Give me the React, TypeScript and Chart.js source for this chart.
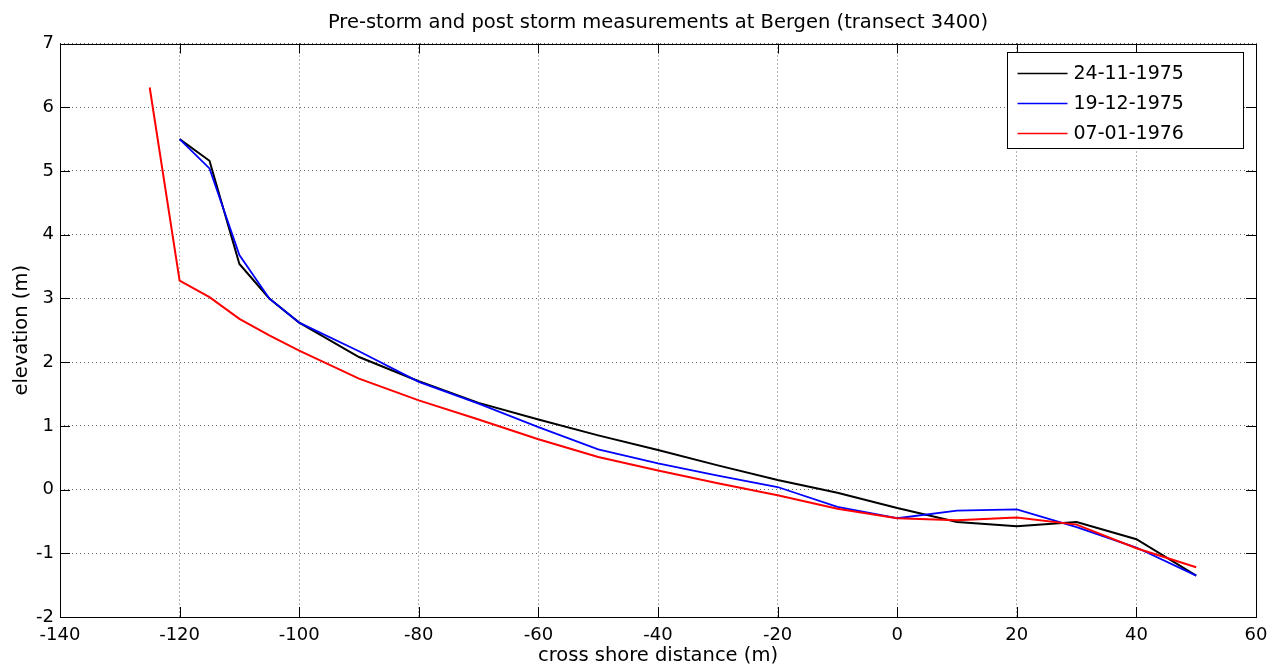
import React, { useEffect, useRef } from "react";
import { Chart, registerables } from "chart.js";

Chart.register(...registerables);

const TITLE = "Pre-storm and post storm measurements at Bergen (transect 3400)";
const X_LABEL = "cross shore distance (m)";
const Y_LABEL = "elevation (m)";

const seriesLabels = ["24-11-1975", "19-12-1975", "07-01-1976"];
const seriesColors = ["#000000", "#0000ff", "#ff0000"];

const distNov = [-120, -115, -110, -105, -100, -90, -80, -70, -60, -50, -40, -30, -20, -10, 0, 10, 20, 30, 40, 50];
const elevNov = [5.5, 5.16, 3.54, 3.0, 2.62, 2.08, 1.7, 1.36, 1.1, 0.85, 0.62, 0.38, 0.15, -0.05, -0.29, -0.51, -0.575, -0.51, -0.78, -1.35];

const distDec = [-120, -115, -110, -105, -100, -90, -80, -70, -60, -50, -40, -30, -20, -10, 0, 10, 20, 30, 40, 50];
const elevDec = [5.5, 5.04, 3.68, 3.0, 2.62, 2.17, 1.69, 1.35, 0.98, 0.63, 0.41, 0.22, 0.04, -0.27, -0.45, -0.33, -0.31, -0.59, -0.91, -1.35];

const distJan = [-125, -120, -115, -110, -105, -100, -90, -80, -70, -60, -50, -40, -30, -20, -10, 0, 10, 20, 30, 40, 50];
const elevJan = [6.31, 3.28, 3.02, 2.68, 2.42, 2.18, 1.74, 1.4, 1.1, 0.79, 0.51, 0.3, 0.1, -0.09, -0.3, -0.45, -0.48, -0.44, -0.55, -0.92, -1.22];

const X_MIN = -140, X_MAX = 60, X_STEP = 20;
const Y_MIN = -2, Y_MAX = 7, Y_STEP = 1;

const FONT = "'DejaVu Sans', 'Liberation Sans', Arial, sans-serif";

const toPoints = (xs: number[], ys: number[]) => xs.map((x, i) => ({ x, y: ys[i] }));

const decorPlugin = {
  id: "decor",
  afterDraw(chart: any) {
    const { ctx, chartArea, scales } = chart;
    const { left, right, top, bottom } = chartArea;
    const xs = scales.x, ys = scales.y;
    ctx.save();
    ctx.strokeStyle = "#000";
    ctx.lineWidth = 1;
    const TL = 10;
    ctx.beginPath();
    xs.ticks.forEach((t: any) => {
      const px = Math.round(xs.getPixelForValue(t.value)) + 0.5;
      ctx.moveTo(px, bottom);
      ctx.lineTo(px, bottom - TL);
      ctx.moveTo(px, top);
      ctx.lineTo(px, top + TL);
    });
    ys.ticks.forEach((t: any) => {
      const py = Math.round(ys.getPixelForValue(t.value)) + 0.5;
      ctx.moveTo(left, py);
      ctx.lineTo(left + TL, py);
      ctx.moveTo(right, py);
      ctx.lineTo(right - TL, py);
    });
    ctx.stroke();
    ctx.strokeRect(Math.round(left) + 0.5, Math.round(top) + 0.5, Math.round(right - left), Math.round(bottom - top));

    // legend
    const bw = 236, bh = 96;
    const bx = Math.round(right - 13 - bw) + 0.5;
    const by = Math.round(top + 8.5) + 0.5;
    ctx.fillStyle = "#fff";
    ctx.fillRect(bx, by, bw, bh);
    ctx.strokeRect(bx, by, bw, bh);
    ctx.font = `19px ${FONT}`;
    ctx.textBaseline = "middle";
    ctx.textAlign = "left";
    chart.data.datasets.forEach((ds: any, i: number) => {
      const cy = by + 21 + i * 30;
      ctx.strokeStyle = ds.borderColor;
      ctx.lineWidth = 1.5;
      ctx.beginPath();
      ctx.moveTo(bx + 10, cy);
      ctx.lineTo(bx + 60, cy);
      ctx.stroke();
      ctx.fillStyle = "#000";
      ctx.fillText(ds.label, bx + 66, cy + 1);
    });
    ctx.restore();
  },
};

export default function App() {
  const ref = useRef<HTMLCanvasElement | null>(null);

  useEffect(() => {
    document.body.style.margin = "0";
    if (!ref.current) return;
    const chart = new Chart(ref.current, {
      type: "line",
      data: {
        datasets: [
          {
            label: seriesLabels[0],
            data: toPoints(distNov, elevNov),
            borderColor: seriesColors[0],
            borderWidth: 2,
            pointRadius: 0,
            tension: 0,
            fill: false,
            order: 2,
          },
          {
            label: seriesLabels[1],
            data: toPoints(distDec, elevDec),
            borderColor: seriesColors[1],
            borderWidth: 1.8,
            pointRadius: 0,
            tension: 0,
            fill: false,
            order: 1,
          },
          {
            label: seriesLabels[2],
            data: toPoints(distJan, elevJan),
            borderColor: seriesColors[2],
            borderWidth: 2,
            pointRadius: 0,
            tension: 0,
            fill: false,
            order: 0,
          },
        ],
      },
      options: {
        animation: false,
        responsive: true,
        maintainAspectRatio: false,
        layout: { padding: { right: 20, top: 0, bottom: 0, left: 0 } },
        plugins: {
          legend: { display: false },
          tooltip: { enabled: false },
          title: {
            display: true,
            text: TITLE,
            color: "#000",
            fullSize: false,
            font: { family: FONT, size: 19.5, weight: "normal", lineHeight: 1.1 },
            padding: { top: 12, bottom: 10.1 },
          },
        },
        scales: {
          x: {
            type: "linear",
            min: X_MIN,
            max: X_MAX,
            afterFit: (s: any) => { s.height = 51; },
            ticks: {
              stepSize: X_STEP,
              color: "#000",
              font: { family: FONT, size: 18 },
              padding: 8,
              maxRotation: 0,
            },
            grid: {
              color: "rgba(0,0,0,0.6)",
              drawTicks: false,
            },
            border: { display: false, dash: [1, 3] },
            title: {
              display: true,
              text: X_LABEL,
              color: "#000",
              font: { family: FONT, size: 19.5 },
              padding: { top: 0, bottom: 0 },
            },
          },
          y: {
            type: "linear",
            min: Y_MIN,
            max: Y_MAX,
            afterFit: (s: any) => { s.width = 60; },
            ticks: {
              stepSize: Y_STEP,
              color: "#000",
              font: { family: FONT, size: 18 },
              padding: 6,
            },
            grid: {
              color: "rgba(0,0,0,0.6)",
              drawTicks: false,
            },
            border: { display: false, dash: [1, 3] },
            title: {
              display: true,
              text: Y_LABEL,
              color: "#000",
              font: { family: FONT, size: 19.5 },
              padding: { top: 10, bottom: 0 },
            },
          },
        },
      },
      plugins: [decorPlugin],
    } as any);
    return () => chart.destroy();
  }, []);

  return (
    <div style={{ position: "relative", width: 1276, height: 668 }}>
      <canvas ref={ref} />
    </div>
  );
}
